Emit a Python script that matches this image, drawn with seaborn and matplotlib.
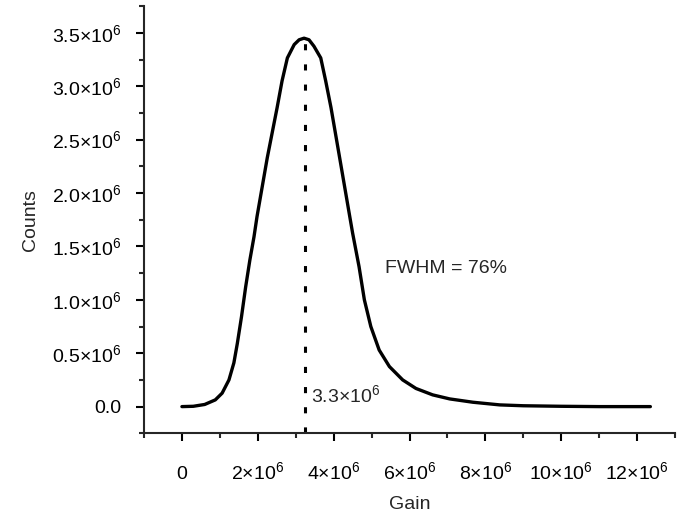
import matplotlib
matplotlib.use("Agg")
import matplotlib.pyplot as plt
import seaborn as sns
import pandas as pd
from matplotlib.ticker import FixedLocator, MultipleLocator

# Data, in units of 1e6
gain_m = [0.0, 0.3, 0.6, 0.88, 1.06, 1.24, 1.37, 1.46, 1.57, 1.68, 1.79, 1.90, 1.98,
          2.25, 2.51, 2.64, 2.78, 2.96, 3.09, 3.22, 3.35, 3.48, 3.66, 3.79, 3.93,
          4.19, 4.41, 4.50, 4.67, 4.81, 4.98, 5.20, 5.47, 5.82, 6.17, 6.61, 7.06,
          7.67, 8.38, 9.0, 10.0, 11.0, 12.35]
counts_m = [0.0, 0.003, 0.02, 0.063, 0.126, 0.25, 0.41, 0.59, 0.84, 1.12, 1.37, 1.59, 1.78,
            2.33, 2.80, 3.05, 3.265, 3.39, 3.435, 3.45, 3.435, 3.375, 3.265, 3.05, 2.80,
            2.265, 1.81, 1.625, 1.31, 1.0, 0.75, 0.53, 0.375, 0.25, 0.17, 0.11, 0.072,
            0.041, 0.016, 0.008, 0.003, 0.0, 0.0]
peak_gain_m = 3.24
peak_label = "3.3×10$^{6}$"
fwhm_label = "FWHM = 76%"
x_ticks_m = [0, 2, 4, 6, 8, 10, 12]
x_tick_labels = ["0", "2×10$^{6}$", "4×10$^{6}$", "6×10$^{6}$", "8×10$^{6}$",
                 "10×10$^{6}$", "12×10$^{6}$"]
y_ticks_m = [0, 0.5, 1.0, 1.5, 2.0, 2.5, 3.0, 3.5]
y_tick_labels = ["0.0", "0.5×10$^{6}$", "1.0×10$^{6}$", "1.5×10$^{6}$", "2.0×10$^{6}$",
                 "2.5×10$^{6}$", "3.0×10$^{6}$", "3.5×10$^{6}$"]

sns.set_style("ticks")
plt.rcParams["font.family"] = ["Liberation Sans", "DejaVu Sans"]
plt.rcParams["mathtext.fontset"] = "custom"
plt.rcParams["mathtext.rm"] = "Liberation Sans"
plt.rcParams["mathtext.it"] = "Liberation Sans:italic"
plt.rcParams["mathtext.bf"] = "Liberation Sans:bold"
plt.rcParams["axes.linewidth"] = 1.5

M = 1e6
fig = plt.figure(figsize=(6.86, 5.12), dpi=100)
ax = fig.add_axes([0.2099, 0.1537, 0.984 - 0.2099, 0.988 - 0.1537])

df = pd.DataFrame({"Gain": [g * M for g in gain_m], "Counts": [c * M for c in counts_m]})
sns.lineplot(data=df, x="Gain", y="Counts", ax=ax, color="black", lw=2.4)

ax.plot([peak_gain_m * M, peak_gain_m * M], [-0.25 * M, max(counts_m) * M], color="black",
        lw=2.2, linestyle=(0, (2.0, 4.6)), dash_capstyle="butt")

ax.set_xlim(-1 * M, 13 * M)
ax.set_ylim(-0.25 * M, 3.75 * M)
ax.xaxis.set_major_locator(FixedLocator([t * M for t in x_ticks_m]))
ax.xaxis.set_minor_locator(MultipleLocator(1 * M))
ax.yaxis.set_major_locator(FixedLocator([t * M for t in y_ticks_m]))
ax.yaxis.set_minor_locator(MultipleLocator(0.25 * M))
ax.set_xticklabels(x_tick_labels)
ax.set_yticklabels(y_tick_labels)

for lbl in ax.get_xticklabels():
    lbl.set_va("baseline")

ax.tick_params(axis="both", which="major", direction="out", length=6, width=1.5,
               labelsize=14, colors="black")
ax.tick_params(axis="both", which="minor", direction="out", length=3.5, width=1.5)
ax.tick_params(axis="x", which="major", pad=27)
ax.tick_params(axis="y", which="major", pad=10)

sns.despine(ax=ax)

ax.set_xlabel("Gain", fontsize=14, labelpad=9)
ax.set_ylabel("Counts", fontsize=14, labelpad=10)

ax.text(3.40 * M, 0.04 * M, peak_label, fontsize=14, ha="left", va="baseline")
ax.text(5.36 * M, 1.25 * M, fwhm_label, fontsize=14, ha="left", va="baseline")

fig.savefig("out.png", dpi=100)
